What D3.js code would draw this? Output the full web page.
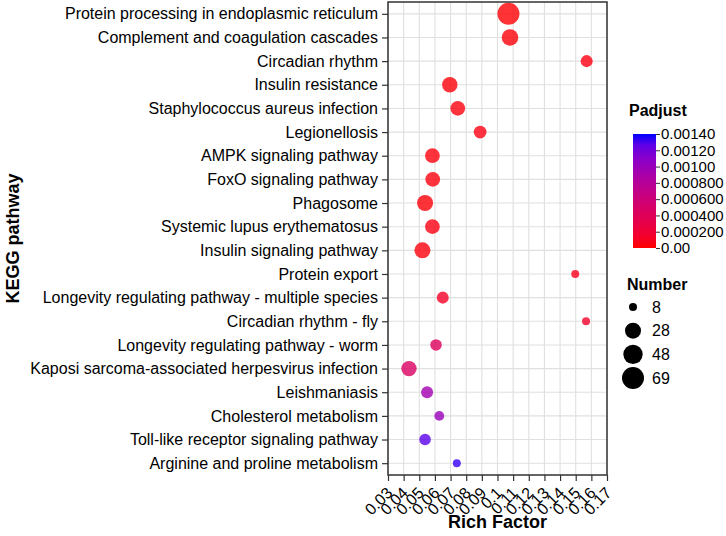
<!DOCTYPE html>
<html>
<head>
<meta charset="UTF-8">
<script src="https://d3js.org/d3.v7.min.js"></script>
<style>
  body { margin: 0; background: #fff; }
  text { font-family: "Liberation Sans", Arial, sans-serif; fill: #000; }
</style>
</head>
<body>
<svg id="canvas"></svg>
<script>

width = 726;
height = 536;

// pathways, top to bottom
pathways = [
    "Protein processing in endoplasmic reticulum",
    "Complement and coagulation cascades",
    "Circadian rhythm",
    "Insulin resistance",
    "Staphylococcus aureus infection",
    "Legionellosis",
    "AMPK signaling pathway",
    "FoxO signaling pathway",
    "Phagosome",
    "Systemic lupus erythematosus",
    "Insulin signaling pathway",
    "Protein export",
    "Longevity regulating pathway - multiple species",
    "Circadian rhythm - fly",
    "Longevity regulating pathway - worm",
    "Kaposi sarcoma-associated herpesvirus infection",
    "Leishmaniasis",
    "Cholesterol metabolism",
    "Toll-like receptor signaling pathway",
    "Arginine and proline metabolism"
];
richFactor = [0.107, 0.108, 0.157, 0.0695, 0.0746, 0.0889, 0.0584, 0.0586, 0.0537, 0.0584,
              0.052, 0.1497, 0.065, 0.1566, 0.0607, 0.0434, 0.055, 0.0628, 0.0537, 0.074];
geneNumber = [69, 31, 13, 25, 22, 15, 22, 22, 28, 22,
              28, 8, 13, 8, 12, 25, 13, 9, 12, 8];
padjust = [0.00001, 0.00002, 0.00004, 0.00002, 0.00003, 0.00004, 0.00003, 0.00003, 0.00002, 0.00004,
           0.00003, 0.00008, 0.00012, 0.00015, 0.00042, 0.00046, 0.00095, 0.00100, 0.00128, 0.00136];

xTicks = [0.03, 0.04, 0.05, 0.06, 0.07, 0.08, 0.09, 0.1, 0.11, 0.12, 0.13, 0.14, 0.15, 0.16, 0.17];
padjTicks = [0, 0.0002, 0.0004, 0.0006, 0.0008, 0.001, 0.0012, 0.0014];
padjLabels = ["0.00", "0.000200", "0.000400", "0.000600", "0.000800", "0.00100", "0.00120", "0.00140"];
sizeBreaks = [8, 28, 48, 69];

data = pathways.map((p, i) => ({ name: p, rf: richFactor[i], n: geneNumber[i], padj: padjust[i] }));

panel = { left: 388, right: 607, top: 2, bottom: 475 };

svg = d3.select("#canvas")
    .attr("width", width)
    .attr("height", height);

x = d3.scaleLinear()
    .domain([0.03, 0.17])
    .range([panel.left, panel.right]);

y = d3.scalePoint()
    .domain(pathways)
    .range([panel.top, panel.bottom])
    .padding(0.5);

// ggplot-like area scale: radius grows with sqrt of (n - min)
nMin = d3.min(sizeBreaks);
nMax = d3.max(sizeBreaks);
rs = d3.scaleSqrt().domain([0, nMax - nMin]).range([4, 11]);
radius = (n) => rs(n - nMin);

color = d3.scaleLinear()
    .domain([0, 0.0014])
    .range(["red", "blue"])
    .interpolate(d3.interpolateLab);

// grid
grid = svg.append("g");
grid.selectAll("line.v")
    .data(xTicks)
    .enter().append("line")
    .attr("x1", (d) => x(d)).attr("x2", (d) => x(d))
    .attr("y1", panel.top).attr("y2", panel.bottom)
    .attr("style", "stroke:#e0e0e0; stroke-width:1.1");
grid.selectAll("line.h")
    .data(pathways)
    .enter().append("line")
    .attr("x1", panel.left).attr("x2", panel.right)
    .attr("y1", (d) => y(d)).attr("y2", (d) => y(d))
    .attr("style", "stroke:#e0e0e0; stroke-width:1.1");

// points
svg.append("g")
    .selectAll("circle")
    .data(data)
    .enter().append("circle")
    .attr("cx", (d) => x(d.rf))
    .attr("cy", (d) => y(d.name))
    .attr("r", (d) => radius(d.n))
    .attr("fill", (d) => color(d.padj))
    .attr("fill-opacity", 0.8);

// panel border
svg.append("rect")
    .attr("x", panel.left).attr("y", panel.top)
    .attr("width", panel.right - panel.left)
    .attr("height", panel.bottom - panel.top)
    .attr("style", "fill:none; stroke:#333; stroke-width:1.5");

// y axis
yAxis = svg.append("g")
    .attr("transform", "translate(" + panel.left + ",0)")
    .call(d3.axisLeft(y).tickSize(6).tickPadding(4));
yAxis.select(".domain").remove();
yAxis.selectAll("line").attr("stroke", "#333").attr("stroke-width", 1.2);
yAxis.selectAll("text")
    .attr("style", "font-size:16px; fill:#000")
    .attr("font-family", null);

// x axis
xAxis = svg.append("g")
    .attr("transform", "translate(0," + panel.bottom + ")")
    .call(d3.axisBottom(x).tickValues(xTicks).tickSize(6).tickFormat(d3.format("")));
xAxis.select(".domain").remove();
xAxis.selectAll("line").attr("stroke", "#333").attr("stroke-width", 1.2);
xAxis.selectAll("text")
    .attr("style", "font-size:16px; fill:#000")
    .attr("font-family", null)
    .attr("text-anchor", "end")
    .attr("dy", null)
    .attr("y", 0)
    .attr("transform", "translate(5,19) rotate(-45)");

// axis titles
svg.append("text")
    .attr("x", (panel.left + panel.right) / 2)
    .attr("y", 528)
    .attr("text-anchor", "middle")
    .attr("style", "font-size:18px; font-weight:bold")
    .text("Rich Factor");

svg.append("text")
    .attr("transform", "translate(19," + ((panel.top + panel.bottom) / 2) + ") rotate(-90)")
    .attr("text-anchor", "middle")
    .attr("style", "font-size:18px; font-weight:bold")
    .text("KEGG pathway");

// colour legend
leg = { x: 633, top: 134, bottom: 248, w: 23 };
defs = svg.append("defs");
grad = defs.append("linearGradient")
    .attr("id", "padj")
    .attr("x1", "0").attr("y1", "1").attr("x2", "0").attr("y2", "0");
grad.selectAll("stop")
    .data(d3.range(0, 1.0001, 0.1))
    .enter().append("stop")
    .attr("offset", (d) => d)
    .attr("stop-color", (d) => color(d * 0.0014));

svg.append("text")
    .attr("x", 629).attr("y", 116)
    .attr("style", "font-size:16px; font-weight:bold")
    .text("Padjust");

svg.append("rect")
    .attr("x", leg.x).attr("y", leg.top)
    .attr("width", leg.w).attr("height", leg.bottom - leg.top)
    .attr("fill", "url(#padj)");

cy = d3.scaleLinear().domain([0, 0.0014]).range([leg.bottom, leg.top]);
cAxis = svg.append("g")
    .attr("transform", "translate(" + (leg.x + leg.w) + ",0)")
    .call(d3.axisRight(cy).tickValues(padjTicks).tickSize(4).tickPadding(1)
        .tickFormat((d, i) => padjLabels[i]));
cAxis.select(".domain").remove();
cAxis.selectAll("line").attr("stroke", "#333");
cAxis.selectAll("text")
    .attr("style", "font-size:15px; fill:#000")
    .attr("font-family", null);

// size legend
svg.append("text")
    .attr("x", 627).attr("y", 290)
    .attr("style", "font-size:16px; font-weight:bold")
    .text("Number");

sy = d3.scalePoint().domain(sizeBreaks).range([307, 378]);
sl = svg.append("g")
    .selectAll("g")
    .data(sizeBreaks)
    .enter().append("g")
    .attr("transform", (d) => "translate(633," + sy(d) + ")");
sl.append("circle")
    .attr("r", (d) => radius(d))
    .attr("fill", "#000");
sl.append("text")
    .attr("x", 19)
    .attr("dy", "0.36em")
    .attr("style", "font-size:16px")
    .text((d) => d);

</script>
</body>
</html>
